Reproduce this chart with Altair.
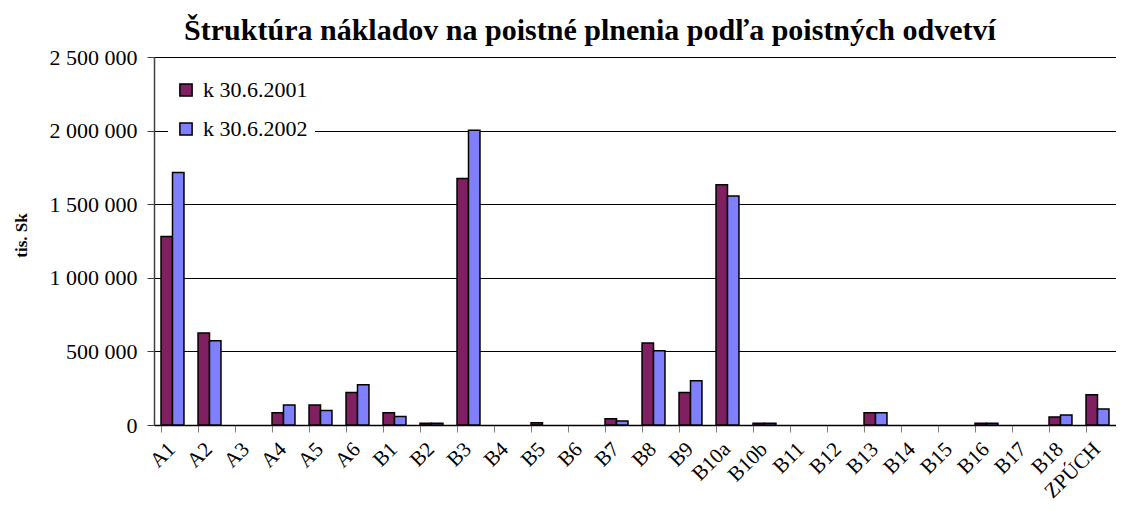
import altair as alt
import pandas as pd

categories = ["A1", "A2", "A3", "A4", "A5", "A6", "B1", "B2", "B3", "B4", "B5", "B6", "B7",
              "B8", "B9", "B10a", "B10b", "B11", "B12", "B13", "B14", "B15", "B16", "B17",
              "B18", "ZPÚCH"]
v2001 = [1280000, 625000, 0, 84000, 136000, 220000, 84000, 12000, 1675000, 0, 15000, 0, 43000,
         557000, 220000, 1632000, 12000, 0, 0, 84000, 0, 0, 12000, 0, 55000, 205000]
v2002 = [1715000, 573000, 0, 136000, 98000, 273000, 57000, 12000, 2002000, 0, 0, 0, 27000,
         505000, 300000, 1555000, 12000, 0, 0, 84000, 0, 0, 12000, 0, 68000, 109000]
series = ["k 30.6.2001", "k 30.6.2002"]
y_ticks = [0, 500000, 1000000, 1500000, 2000000, 2500000]

rows = []
for c, a, b in zip(categories, v2001, v2002):
    rows.append({"cat": c, "series": series[0], "value": a})
    rows.append({"cat": c, "series": series[1], "value": b})
df = pd.DataFrame(rows)

font = "Liberation Serif"

chart = alt.Chart(df).transform_filter(
    alt.datum.value > 0
).mark_bar(stroke="black", strokeWidth=1.5).encode(
    x=alt.X("cat:N", sort=categories,
            scale=alt.Scale(domain=categories, paddingInner=0.38, paddingOuter=0.19),
            axis=alt.Axis(title=None, labelAngle=-45, labelFont=font, labelFontSize=21,
                          labelColor="black", labelPadding=6, labelOffset=-8,
                          bandPosition=0, tickSize=7, tickColor="#808080",
                          domainColor="black", domainWidth=1.5, grid=False)),
    xOffset=alt.XOffset("series:N", sort=series,
                        scale=alt.Scale(domain=series, paddingInner=0, paddingOuter=0)),
    y=alt.Y("value:Q", scale=alt.Scale(domain=[0, 2500000], nice=False),
            axis=alt.Axis(title="tis. Sk", values=y_ticks, format=",d",
                          labelExpr="replace(datum.label, /,/g, ' ')",
                          labelFont=font, labelFontSize=22, labelColor="black",
                          labelPadding=10, tickSize=7, tickColor="#404040",
                          domainColor="#404040", domainWidth=1.5,
                          gridColor="black", gridWidth=1, gridOpacity=1,
                          titleFont=font, titleFontSize=17, titleFontWeight="bold",
                          titleColor="black", titleAngle=-90, titleX=-133, titleY=178,
                          titleAlign="center", titleBaseline="middle")),
    color=alt.Color("series:N", sort=series,
                    scale=alt.Scale(domain=series, range=["#802060", "#8080FF"]),
                    legend=alt.Legend(title=None, orient="none", legendX=14, legendY=15,
                                      fillColor="white", padding=7, symbolType="square",
                                      symbolSize=150, symbolStrokeColor="black",
                                      symbolStrokeWidth=1.5, labelFont=font,
                                      labelFontSize=22, labelColor="black",
                                      rowPadding=17, labelOffset=6)),
).properties(
    width=962,
    height=368,
    title=alt.TitleParams("Štruktúra nákladov na poistné plnenia podľa poistných odvetví",
                          font=font, fontSize=30, fontWeight="bold", color="black",
                          anchor="middle", frame="group", dx=-45, dy=6, offset=6),
    autosize=alt.AutoSizeParams(type="none"),
    padding={"left": 146, "top": 49, "right": 0, "bottom": 78},
).configure_view(
    fill="#FFFFC0", stroke="#808080", strokeWidth=2
).configure(background="white")

chart.save("out.html", embed_options={"renderer": "svg", "actions": False})
